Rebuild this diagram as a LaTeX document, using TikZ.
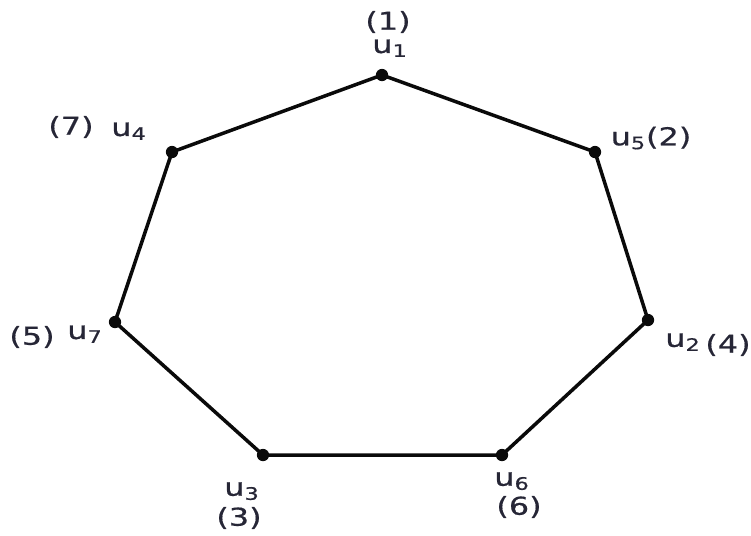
\documentclass[tikz,border=0pt]{standalone}
\usepackage{fontspec}
\setmainfont[FakeStretch=1.3, FakeBold=0.6]{DejaVu Sans}
\usepackage{tikz}
\usetikzlibrary{positioning}
\definecolor{EdgeBlack}{HTML}{0A0A0A}
\definecolor{LabelText}{HTML}{262636}

\tikzset{
  vert/.style={circle, fill=EdgeBlack, inner sep=0pt, minimum size=7pt},
  edge/.style={line width=2pt, EdgeBlack},
  lbl/.style={text=LabelText, inner sep=0pt, font=\fontsize{14}{16}\selectfont}
}

\begin{document}
\begin{tikzpicture}[x=0.02cm, y=-0.02cm]
  \useasboundingbox (0,0) rectangle (751,535);

  % Vertices
  \node[vert] (u1) at (382, 75) {};
  \node[vert] (u5) at (595, 152) {};
  \node[vert] (u2) at (648, 320) {};
  \node[vert] (u6) at (502, 455) {};
  \node[vert] (u3) at (263, 455) {};
  \node[vert] (u7) at (115, 322) {};
  \node[vert] (u4) at (172, 152) {};

  % Cycle
  \draw[edge] (u1.center) -- (u5.center) -- (u2.center) -- (u6.center)
    -- (u3.center) -- (u7.center) -- (u4.center) -- cycle;

  % Names and order
  \node[lbl] (n1) at (388, 22) {(1)};
  \node[lbl] (l1) at (390, 48) {u\textsubscript{1}};
  \node[lbl] (n7) at (71, 127) {(7)};
  \node[lbl] (l4) at (129, 131) {u\textsubscript{4}};
  \node[lbl] (l5) at (651, 138) {u\textsubscript{5}(2)};
  \node[lbl] (n5) at (32, 337) {(5)};
  \node[lbl] (l7) at (85, 334) {u\textsubscript{7}};
  \node[lbl] (l2) at (683, 342) {u\textsubscript{2}};
  \node[lbl] (n4) at (728, 345) {(4)};
  \node[lbl] (l3) at (242, 491) {u\textsubscript{3}};
  \node[lbl] (n3) at (239, 518) {(3)};
  \node[lbl] (l6) at (512, 481) {u\textsubscript{6}};
  \node[lbl] (n6) at (519, 507) {(6)};
\end{tikzpicture}
\end{document}
